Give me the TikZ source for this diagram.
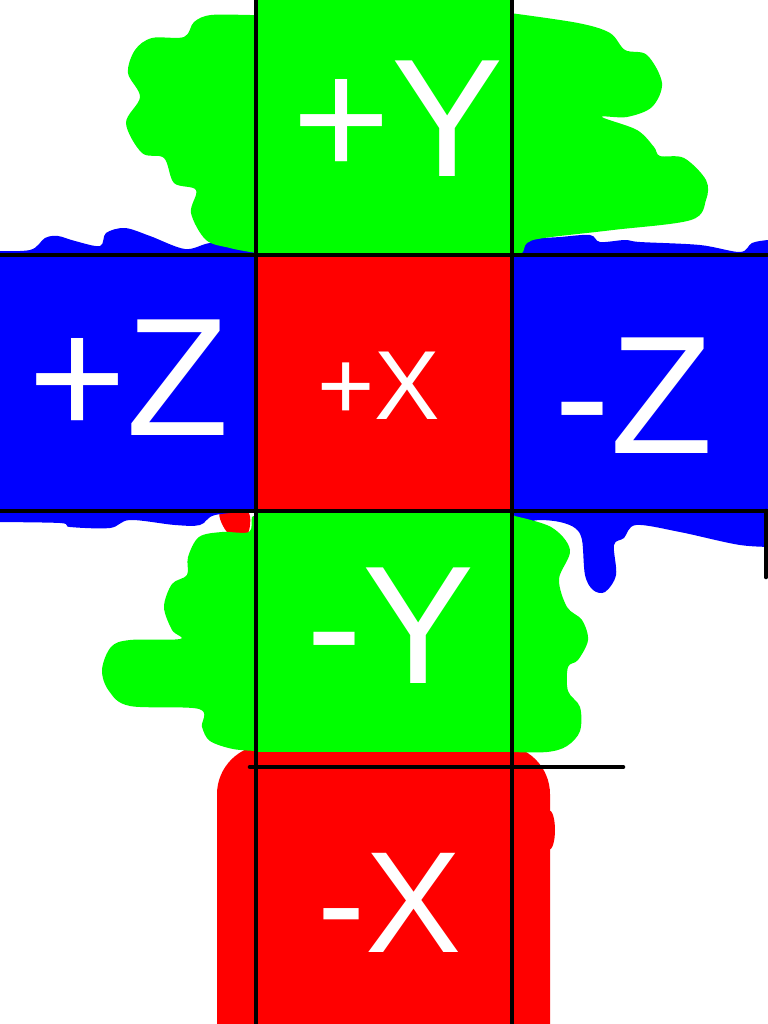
\documentclass[tikz,border=0pt]{standalone}
\usepackage{fontspec}
\setmainfont{Liberation Sans}
\definecolor{cubeRed}{RGB}{255,0,0}
\definecolor{cubeGreen}{RGB}{0,255,0}
\definecolor{cubeBlue}{RGB}{0,0,255}

\begin{document}
\begin{tikzpicture}[
    x=0.01cm, y=-0.01cm,
    facetext/.style={
        text=white, inner sep=0pt,
        font=\fontsize{47.8pt}{50pt}\selectfont
    },
    smallface/.style={facetext, font=\fontsize{27.9pt}{30pt}\selectfont},
    midface/.style={facetext, font=\fontsize{41pt}{44pt}\selectfont},
    grid/.style={line width=1.3pt, black, line cap=round},
    blob/.style={smooth cycle, tension=0.55},
    lobe/.style={smooth, tension=0.55}
]
\useasboundingbox (0,0) rectangle (768,1024);
\clip (0,0) rectangle (768,1024);

% -X (bottom red patch)
\fill[cubeRed, rounded corners=14] (217,1080) -- (217,745) -- (550,745) -- (550,1080) -- cycle;
\fill[cubeRed] (549,830) ellipse (6 and 20);
\fill[cubeRed] plot[blob] coordinates {(220,512) (248,512) (247,535) (228,533)};

% +Z (left blue)
\fill[cubeBlue] (0,255) rectangle (258,511);
\fill[cubeBlue] plot[lobe] coordinates {(-10,251) (30,250) (45,238) (58,236)
    (75,241) (100,246) (106,233) (125,228) (150,236) (185,249) (210,243) (240,243) (258,250)} -- (258,262) -- (-10,262) -- cycle;
\fill[cubeBlue] plot[lobe] coordinates {(258,511) (215,515) (200,525)
    (175,525) (130,520) (110,528) (70,527) (60,523) (-10,522)} -- (-10,505) -- (258,505) -- cycle;

% -Z (right blue)
\fill[cubeBlue] (512,255) rectangle (768,511);
\fill[cubeBlue] plot[lobe] coordinates {(512,250) (522,250) (527,240) (560,237)
    (590,235) (600,242) (625,240) (640,242) (700,245) (740,252) (752,243) (768,240) (780,240)} -- (780,262) -- (512,262) -- cycle;
\fill[cubeBlue] plot[lobe] coordinates {(512,511) (520,522) (540,520) (560,522) (575,528)
    (582,540) (585,575) (593,590) (605,592) (616,575) (614,545) (624,538) (636,525)
    (680,532) (740,545) (780,547)} -- (780,505) -- (512,505) -- cycle;

% +Y (top green)
\fill[cubeGreen] (256,-5) rectangle (512,255);
\fill[cubeGreen] plot[lobe] coordinates {(258,15) (250,15) (211,15) (194,22) (184,37)
    (152,38) (135,50) (128,73) (140,97) (126,123) (142,153) (164,158) (174,183) (196,190)
    (191,213) (206,240) (230,248) (250,252) (258,253)} -- cycle;
\fill[cubeGreen] plot[lobe] coordinates {(510,13) (578,23) (610,33) (625,50)
    (647,55) (662,83) (652,107) (627,117) (602,117) (637,130) (654,147) (660,156) (684,158)
    (706,180) (706,200) (691,220) (613,230) (544,238) (527,243) (522,253) (510,253)} -- cycle;

% -Y (lower green)
\fill[cubeGreen] (256,511) rectangle (512,752);
\fill[cubeGreen] plot[lobe] coordinates {(258,517) (252,517) (249,532) (222,532) (199,537)
    (188,557) (187,575) (172,584) (164,607) (172,630) (180,639) (130,640) (111,647)
    (102,670) (109,691) (130,706) (199,709) (202,727) (210,741) (233,749) (258,751)} -- cycle;
\fill[cubeGreen] plot[lobe] coordinates {(510,515) (551,527) (570,550) (559,579)
    (567,607) (582,620) (588,640) (578,660) (568,667) (568,691) (580,707) (580,731)
    (567,746) (547,752) (510,752)} -- cycle;

% +X (centre red)
\fill[cubeRed] (256,255) rectangle (512,511);

% grid lines
\draw[grid] (256,-10) -- (256,1040);
\draw[grid] (512,-10) -- (512,1040);
\draw[grid] (-10,255) -- (778,255);
\draw[grid] (-10,511) -- (778,511);
\draw[grid] (250,767) -- (623,767);
\draw[grid] (766,511) -- (766,577);

% face labels
\node[facetext] (posY) at (398,119) {+Y};
\node[facetext] (posZ) at (129,378) {+Z};
\node[smallface] (posX) at (379,386) {+X};
\node[facetext] (negZ) at (634,396) {-Z};
\node[facetext] (negY) at (391,626) {-Y};
\node[midface] (negX) at (390,903) {-X};

\end{tikzpicture}
\end{document}
